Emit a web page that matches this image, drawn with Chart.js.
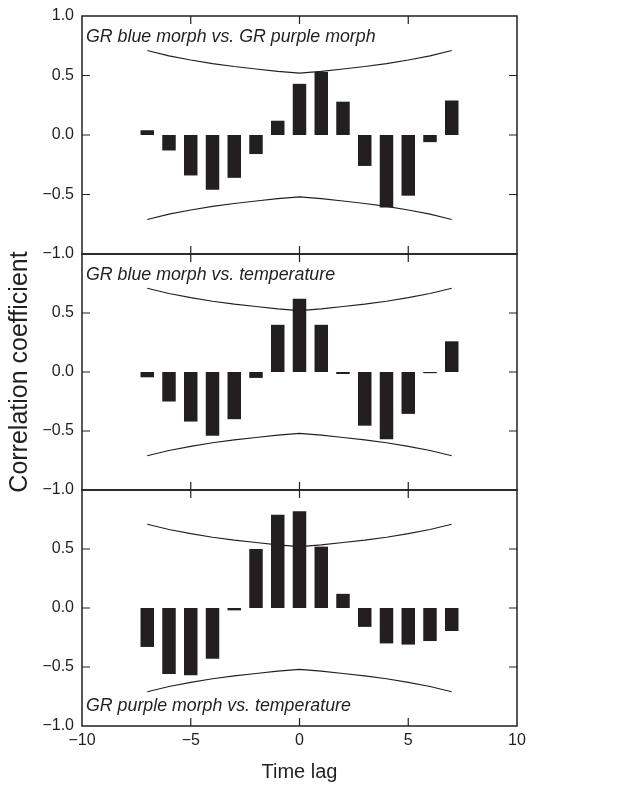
<!DOCTYPE html>
<html>
<head>
<meta charset="utf-8">
<script src="https://cdn.jsdelivr.net/npm/chart.js@4.4.1/dist/chart.umd.min.js"></script>
<style>
  body { margin: 0; background: #fff; }
  #wrap { position: relative; width: 633px; height: 786px; }
  canvas { position: absolute; left: 0; }
</style>
</head>
<body>
<div id="wrap">
  <canvas id="c1" width="633" height="264" style="top:0px"></canvas>
  <canvas id="c2" width="633" height="256" style="top:244px"></canvas>
  <canvas id="c3" width="633" height="306" style="top:480px"></canvas>
</div>
<script>
// lags and correlation values
const lags = [-7, -6, -5, -4, -3, -2, -1, 0, 1, 2, 3, 4, 5, 6, 7];
const bluePurple = [0.04, -0.13, -0.34, -0.46, -0.36, -0.16, 0.12, 0.43, 0.53, 0.28, -0.26, -0.61, -0.51, -0.06, 0.29];
const blueTemp = [-0.045, -0.25, -0.42, -0.54, -0.40, -0.05, 0.40, 0.62, 0.40, -0.017, -0.455, -0.57, -0.355, -0.01, 0.26];
const purpleTemp = [-0.33, -0.56, -0.57, -0.43, -0.02, 0.50, 0.79, 0.82, 0.52, 0.12, -0.16, -0.30, -0.31, -0.28, -0.195];
// confidence limits
const upperLimit = [0.71, 0.665, 0.63, 0.60, 0.575, 0.555, 0.535, 0.52, 0.535, 0.555, 0.575, 0.60, 0.63, 0.665, 0.71];
const lowerLimit = [-0.71, -0.665, -0.63, -0.60, -0.575, -0.555, -0.535, -0.52, -0.535, -0.555, -0.575, -0.60, -0.63, -0.665, -0.71];

const panelTitles = ['GR blue morph vs. GR purple morph', 'GR blue morph vs. temperature', 'GR purple morph vs. temperature'];
const xTicks = [-10, -5, 0, 5, 10];
const yTicks = [1.0, 0.5, 0.0, -0.5, -1.0];
const innerXTicks = [-5, 0, 5];
const innerYTicks = [0.5, 0.0, -0.5];

const ink = '#231f20';
const fontFam = '"Liberation Sans", Arial, Helvetica, sans-serif';

function fmt(v, digits) {
    return (v < 0 ? '\u2212' : '') + Math.abs(v).toFixed(digits);
}

function pts(ys) { return lags.map((l, i) => ({ x: l, y: ys[i] })); }

// frame, inward ticks and panel label
const framePlugin = {
    id: 'frame',
    afterDraw(chart, args, opts) {
        const { ctx, chartArea: a, scales } = chart;
        ctx.save();
        ctx.strokeStyle = ink;
        ctx.lineWidth = 1.5;
        ctx.strokeRect(a.left, a.top, a.right - a.left, a.bottom - a.top);
        ctx.lineWidth = 1.2;
        ctx.beginPath();
        innerYTicks.forEach(v => {
            const y = scales.y.getPixelForValue(v);
            ctx.moveTo(a.left, y); ctx.lineTo(a.left + 8, y);
            ctx.moveTo(a.right, y); ctx.lineTo(a.right - 8, y);
        });
        innerXTicks.forEach(v => {
            const x = scales.x.getPixelForValue(v);
            ctx.moveTo(x, a.top); ctx.lineTo(x, a.top + 8);
            ctx.moveTo(x, a.bottom); ctx.lineTo(x, a.bottom - 8);
        });
        ctx.stroke();
        ctx.fillStyle = ink;
        ctx.font = 'italic 17.8px ' + fontFam;
        ctx.textBaseline = 'alphabetic';
        ctx.textAlign = 'left';
        const ty = opts.atBottom ? a.bottom - 15 : a.top + 26;
        ctx.fillText(opts.text, a.left + 4, ty);
        ctx.restore();
    }
};

function makePanel(id, values, idx) {
    const last = idx === 2;
    const padTop = idx === 0 ? 16 : 10;
    const padBottom = last ? 0 : 10;
    new Chart(document.getElementById(id), {
        data: {
            datasets: [
                { type: 'bar', data: pts(values), backgroundColor: ink, borderWidth: 0,
                  grouped: false, barPercentage: 0.62, categoryPercentage: 1.0, order: 2 },
                { type: 'line', data: pts(upperLimit), borderColor: ink, borderWidth: 1.1,
                  pointRadius: 0, fill: false, tension: 0, order: 1 },
                { type: 'line', data: pts(lowerLimit), borderColor: ink, borderWidth: 1.1,
                  pointRadius: 0, fill: false, tension: 0, order: 1 }
            ]
        },
        options: {
            responsive: false,
            animation: false,
            layout: { padding: { left: 0, right: 116, top: padTop, bottom: padBottom } },
            plugins: {
                legend: { display: false },
                tooltip: { enabled: false },
                frame: { text: panelTitles[idx], atBottom: last }
            },
            scales: {
                x: {
                    type: 'linear', min: -10, max: 10, offset: false,
                    display: last,
                    grid: { display: false, drawTicks: false, offset: false },
                    border: { display: false },
                    ticks: {
                        stepSize: 5, padding: 5, color: ink,
                        font: { family: fontFam, size: 16 },
                        maxRotation: 0,
                        callback: v => xTicks.includes(v) ? fmt(v, 0) : ''
                    },
                    title: {
                        display: last, text: 'Time lag', color: ink,
                        font: { family: fontFam, size: 20 },
                        padding: { top: 0, bottom: 2 }
                    },
                    afterFit: s => {
                        if (last) s.height = 60;
                        s.paddingLeft = 0; s.paddingRight = 0;
                    }
                },
                y: {
                    type: 'linear', min: -1, max: 1,
                    grid: { display: false, drawTicks: false },
                    border: { display: false },
                    ticks: {
                        stepSize: 0.5, padding: 8, color: ink,
                        font: { family: fontFam, size: 16 },
                        callback: v => (idx > 0 && v === 1) ? '' : (yTicks.includes(v) ? fmt(v, 1) : '')
                    },
                    title: {
                        display: idx === 1, text: 'Correlation coefficient', color: ink,
                        font: { family: fontFam, size: 25 },
                        padding: { top: 5, bottom: 0 }
                    },
                    afterFit: s => {
                        s.width = 82;
                        s.paddingTop = 0; s.paddingBottom = 0;
                    }
                }
            }
        },
        plugins: [framePlugin]
    });
}

makePanel('c1', bluePurple, 0);
makePanel('c2', blueTemp, 1);
makePanel('c3', purpleTemp, 2);
</script>
</body>
</html>
